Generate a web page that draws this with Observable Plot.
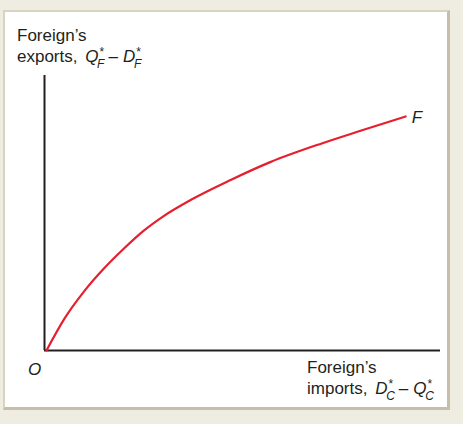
<!DOCTYPE html>
<html>
<head>
<meta charset="utf-8">
<script src="https://cdn.jsdelivr.net/npm/d3@7"></script>
<script src="https://cdn.jsdelivr.net/npm/@observablehq/plot@0.6"></script>
<style>
  html, body { margin: 0; padding: 0; }
  body { width: 463px; height: 424px; background: #efede2; position: relative; overflow: hidden;
         font-family: "Liberation Sans", Arial, Helvetica, sans-serif; }
  #panel { position: absolute; left: 3px; top: 10px; width: 442px; height: 395px; background: #fff;
           border-top: 2px solid #d9d3c3; border-left: 2px solid #d9d3c3;
           border-right: 3px solid #c7bea9; border-bottom: 3px solid #c7bea9; }
  #chart { position: absolute; left: 0; top: 0; }
  #chart svg { background: transparent; overflow: visible; }
</style>
</head>
<body>
<div id="panel"></div>
<div id="chart"></div>
<script>
// Foreign export supply curve F: exports (Q*F − D*F) against imports (D*C − Q*C)
const importsQty = [0.5, 5, 10, 15, 20, 25, 30, 37, 47, 57, 70, 80, 91.2];
const exportsQty = [0, 11.5, 21.5, 29.8, 37, 43.5, 48.8, 54.8, 62, 68.5, 75.3, 80, 85.1];
const curveName = "F";
const originName = "O";
const yLabelLines = ["Foreign\u2019s", "exports,"];
const xLabelLines = ["Foreign\u2019s", "imports,"];
const yLabelTerms = [["Q", "F"], ["D", "F"]];
const xLabelTerms = [["D", "C"], ["Q", "C"]];

const curve = importsQty.map((x, i) => ({x, y: exportsQty[i]}));
const last = curve[curve.length - 1];

const chart = Plot.plot({
  width: 463,
  height: 424,
  marginLeft: 44,
  marginRight: 23,
  marginTop: 75,
  marginBottom: 74,
  x: {domain: [0, 100], axis: null},
  y: {domain: [0, 100], axis: null},
  style: {fontFamily: "Liberation Sans, Arial, Helvetica, sans-serif", background: "transparent"},
  marks: [
    Plot.ruleX([0], {y1: 0, y2: 100, stroke: "#231f20", strokeWidth: 2}),
    Plot.ruleY([0], {x1: 0, x2: 100, stroke: "#231f20", strokeWidth: 2}),
    Plot.line(curve, {x: "x", y: "y", stroke: "#e5202e", strokeWidth: 2.2, curve: "monotone-x"}),
    Plot.text([last], {x: "x", y: "y", text: () => curveName, dx: 6, dy: 1, textAnchor: "start",
      fontSize: 17, fontStyle: "italic", fill: "#231f20"}),
    Plot.text([{x: 0, y: 0}], {x: "x", y: "y", text: () => originName, dx: -10, dy: 19,
      fontSize: 17, fontStyle: "italic", fill: "#231f20"})
  ]
});
document.getElementById("chart").appendChild(chart);

// Two-line axis titles with italic starred, subscripted quantities
const svg = d3.select(chart);
const sx = chart.scale("x"), sy = chart.scale("y");
function label(x, y, lines, terms) {
  const g = svg.append("g").attr("fill", "#231f20").attr("text-anchor", "start")
    .attr("font-family", "Liberation Sans, Arial, Helvetica, sans-serif").attr("font-size", 17);
  g.append("text").attr("x", x).attr("y", y).text(lines[0]);
  const t = g.append("text").attr("x", x).attr("y", y + 20.5);
  t.append("tspan").text(lines[1] + " ");
  terms.forEach(([v, s], i) => {
    if (i > 0) t.append("tspan").attr("dy", -6).attr("dx", 4).text("\u2013");
    t.append("tspan").attr("font-style", "italic").attr("dx", i > 0 ? 5 : 3).text(v);
    t.append("tspan").attr("font-size", 12).attr("dy", -6).attr("dx", 1).text("*");
    t.append("tspan").attr("font-size", 12).attr("font-style", "italic").attr("dy", 12).attr("dx", -7).text(s);
  });
}
label(sx.apply(0) - 27, sy.apply(100) - 34, yLabelLines, yLabelTerms);
label(sx.apply(0) + 263, sy.apply(0) + 23, xLabelLines, xLabelTerms);
</script>
</body>
</html>
